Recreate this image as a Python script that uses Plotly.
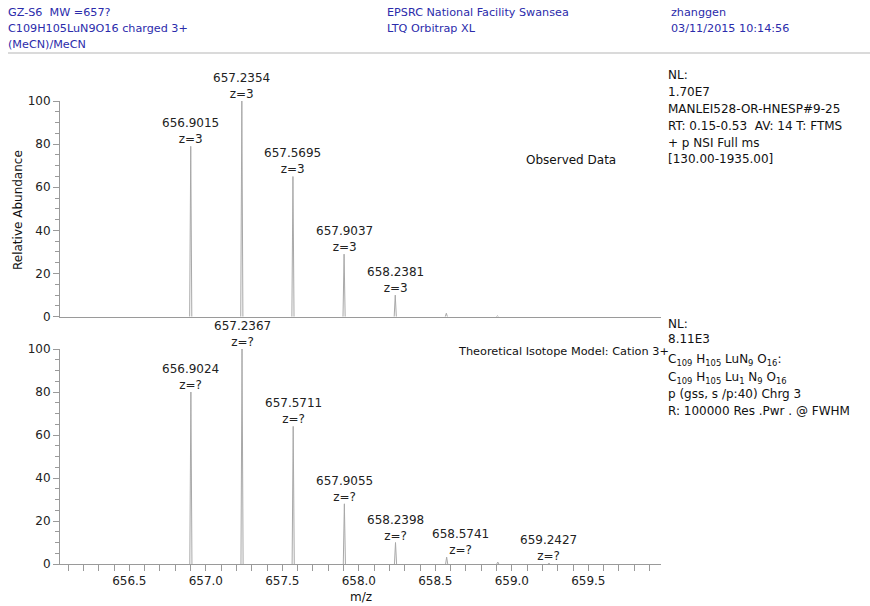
import plotly.graph_objects as go

# Observed spectrum: centroid m/z and relative abundance
obs_mz = [656.9015, 657.2354, 657.5695, 657.9037, 658.2381, 658.5720, 658.9060]
obs_int = [79.0, 100.0, 65.0, 29.0, 10.0, 1.6, 0.4]
obs_labeled = [True, True, True, True, True, False, False]
obs_charge = ["z=3"] * 7

# Theoretical isotope model for C109H105LuN9O16 (3+)
thr_mz = [656.9024, 657.2367, 657.5711, 657.9055, 658.2398, 658.5741, 658.9085, 659.2427]
thr_int = [80.0, 100.0, 64.0, 28.0, 10.0, 3.2, 0.9, 0.3]
thr_labeled = [True, True, True, True, True, True, False, True]
thr_charge = ["z=?"] * 8

x_ticks = [656.5, 657.0, 657.5, 658.0, 658.5, 659.0, 659.5]
y_ticks = [0, 20, 40, 60, 80, 100]

W, H = 870, 606
FONT = "DejaVu Sans"
BLUE = "#2b2bab"
GRAY = "#a8a8a8"
AXIS = "#9a9a9a"
HALF = 0.007  # half-width of each drawn peak in m/z


def px(x):
    return x / W


def py(y):
    return 1 - y / H


def peak_path(mz, inten):
    xs, ys = [], []
    for m, h in zip(mz, inten):
        xs += [m - HALF, m, m + HALF, None]
        ys += [0, h, 0, None]
    return xs, ys


fig = go.Figure()
for mz, inten, ax in [(obs_mz, obs_int, "y"), (thr_mz, thr_int, "y2")]:
    xs, ys = peak_path(mz, inten)
    fig.add_trace(go.Scatter(
        x=xs, y=ys, mode="lines", line=dict(color=GRAY, width=1),
        xaxis="x" if ax == "y" else "x2", yaxis=ax,
        hoverinfo="skip", showlegend=False))

annotations = []
# peak labels: m/z value over charge state
for mz, inten, lab, ch, xa, ya in [
        (obs_mz, obs_int, obs_labeled, obs_charge, "x", "y"),
        (thr_mz, thr_int, thr_labeled, thr_charge, "x2", "y2")]:
    for m, h, l, c in zip(mz, inten, lab, ch):
        if not l:
            continue
        shift = 14 if (ya == "y2" and abs(m - 658.5741) < 1e-4) else 0
        annotations.append(dict(
            x=m, y=h, xref=xa, yref=ya, text=f"{m:.4f}<br>{c}",
            showarrow=False, yanchor="bottom", xanchor="center",
            xshift=shift, yshift=-2,
            font=dict(family=FONT, size=12, color="#222222")))


def txt(x, y, s, color="#111111", size=12, anchor="left"):
    annotations.append(dict(
        x=px(x), y=py(y), xref="paper", yref="paper", text=s,
        showarrow=False, xanchor=anchor, yanchor="middle",
        font=dict(family=FONT, size=size, color=color)))


# header
HS = 11.2
txt(6, 13, "GZ-S6  MW =657?", BLUE, HS)
txt(6, 29, "C109H105LuN9O16 charged 3+", BLUE, HS)
txt(6, 45, "(MeCN)/MeCN", BLUE, HS)
txt(385, 13, "EPSRC National Facility Swansea", BLUE, HS)
txt(385, 29, "LTQ Orbitrap XL", BLUE, HS)
txt(669, 13, "zhanggen", BLUE, HS)
txt(669, 29, "03/11/2015 10:14:56", BLUE, HS)

# observed panel info
for s, yy in [("NL:", 75), ("1.70E7", 92), ("MANLEI528-OR-HNESP#9-25", 109),
              ("RT: 0.15-0.53  AV: 14 T: FTMS", 126), ("+ p NSI Full ms", 143),
              ("[130.00-1935.00]", 159)]:
    txt(666, yy, s)
txt(524, 160, "Observed Data")

# model panel info
for s, yy in [("NL:", 324), ("8.11E3", 339),
              ("C<sub>109</sub> H<sub>105</sub> LuN<sub>9</sub> O<sub>16</sub>:", 360),
              ("C<sub>109</sub> H<sub>105</sub> Lu<sub>1</sub> N<sub>9</sub> O<sub>16</sub>", 378),
              ("p (gss, s /p:40) Chrg 3", 394),
              ("R: 100000 Res .Pwr . @ FWHM", 411)]:
    txt(666, yy, s)
txt(456, 351, "Theoretical Isotope Model: Cation 3+", size=11.3)

# axis titles
txt(361, 597, "m/z", anchor="center")
annotations.append(dict(
    x=px(18), y=py(210), xref="paper", yref="paper", text="Relative Abundance",
    textangle=-90, showarrow=False, xanchor="center", yanchor="middle",
    font=dict(family=FONT, size=12, color="#111111")))

# header separator
shapes = [dict(type="line", xref="paper", yref="paper",
               x0=px(8), x1=1, y0=py(53), y1=py(53),
               line=dict(color="#b5b5b5", width=1))]

x_dom = [px(60), px(661)]
x_rng = [656.047, 659.975]
yaxis_common = dict(
    range=[0, 100], tickvals=y_ticks, ticks="outside", ticklen=6,
    tickcolor=AXIS, showline=True, linecolor=AXIS, linewidth=1,
    showgrid=False, zeroline=False, automargin=False,
    minor=dict(dtick=5, ticklen=4, ticks="outside", tickcolor=AXIS, showgrid=False),
    tickfont=dict(family=FONT, size=12, color="#222222"))

fig.update_layout(
    width=W, height=H,
    margin=dict(l=0, r=0, t=0, b=0, pad=0, autoexpand=False),
    paper_bgcolor="white", plot_bgcolor="white",
    xaxis=dict(domain=x_dom, range=x_rng, anchor="y", showticklabels=False,
               showline=True, linecolor=AXIS, showgrid=False, zeroline=False,
               ticks="", automargin=False),
    xaxis2=dict(domain=x_dom, range=x_rng, anchor="y2", tickvals=x_ticks,
                ticktext=[f"{v:.1f}" for v in x_ticks],
                ticks="outside", ticklen=6, tickcolor=AXIS, automargin=False,
                showline=True, linecolor=AXIS, showgrid=False, zeroline=False,
                minor=dict(dtick=0.1, tick0=656.0, ticklen=6, ticks="outside",
                           tickcolor=AXIS, showgrid=False),
                tickfont=dict(family=FONT, size=12, color="#222222")),
    yaxis={**yaxis_common, "domain": [py(316.7), py(101)], "anchor": "x"},
    yaxis2={**yaxis_common, "domain": [py(564), py(349)], "anchor": "x2"},
    annotations=annotations, shapes=shapes)

fig.write_html("out.html")
